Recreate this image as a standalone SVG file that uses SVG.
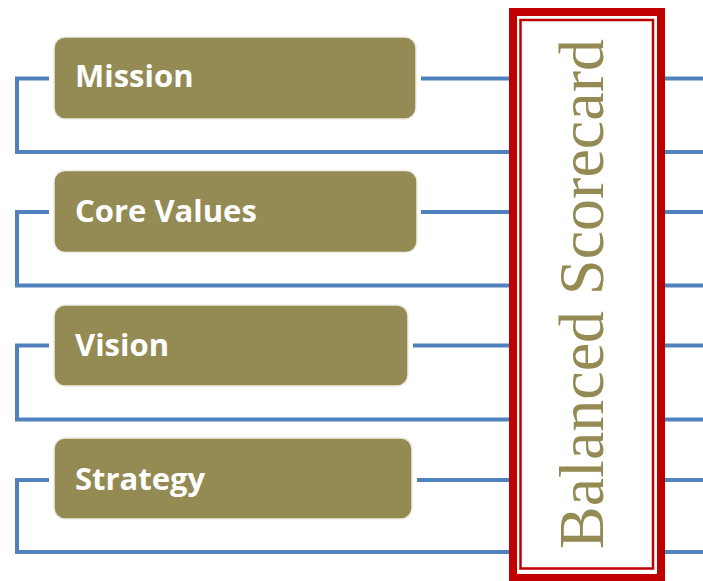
<svg xmlns="http://www.w3.org/2000/svg" width="703" height="581" viewBox="0 0 703 581">
  <style>
    .conn { fill: none; stroke: #4f81bd; stroke-width: 4; }
    .box { fill: #948a54; stroke: #f0ede4; stroke-width: 1.5; }
    .lbl { font-family: "Open Sans", "Liberation Sans", sans-serif; font-weight: 700; font-size: 31px; fill: #ffffff; }
    .title { font-family: "Liberation Serif", "Times New Roman", serif; font-size: 64px; fill: #948a54; }
  </style>
  <rect x="0" y="0" width="703" height="581" fill="#ffffff"/>
  <g id="connectors">
    <polyline class="conn" points="49,78.5 17,78.5 17,152 703,152"/>
    <line class="conn" x1="421" y1="78.5" x2="703" y2="78.5"/>
    <polyline class="conn" points="49,212 17,212 17,285.5 703,285.5"/>
    <line class="conn" x1="421" y1="212" x2="703" y2="212"/>
    <polyline class="conn" points="49,345.5 17,345.5 17,419.5 703,419.5"/>
    <line class="conn" x1="413" y1="345.5" x2="703" y2="345.5"/>
    <polyline class="conn" points="49,480 17,480 17,552 703,552"/>
    <line class="conn" x1="417" y1="480" x2="703" y2="480"/>
  </g>
  <g id="mission">
    <rect class="box" x="54" y="37" width="362" height="82" rx="11"/>
    <text class="lbl" x="75" y="87">Mission</text>
  </g>
  <g id="core-values">
    <rect class="box" x="54" y="170.5" width="363" height="82" rx="11"/>
    <text class="lbl" x="75" y="222">Core Values</text>
  </g>
  <g id="vision">
    <rect class="box" x="54" y="305" width="354" height="81" rx="11"/>
    <text class="lbl" x="75" y="356">Vision</text>
  </g>
  <g id="strategy">
    <rect class="box" x="54" y="438" width="358" height="81" rx="11"/>
    <text class="lbl" x="75" y="490">Strategy</text>
  </g>
  <g id="balanced-scorecard">
    <rect x="513" y="12" width="148" height="566" fill="#ffffff" stroke="#c00000" stroke-width="8"/>
    <rect x="520.5" y="20" width="132.5" height="548.5" fill="none" stroke="#c00000" stroke-width="2.5"/>
    <text class="title" transform="translate(603,294) rotate(-90)" text-anchor="middle">Balanced Scorecard</text>
  </g>
</svg>
